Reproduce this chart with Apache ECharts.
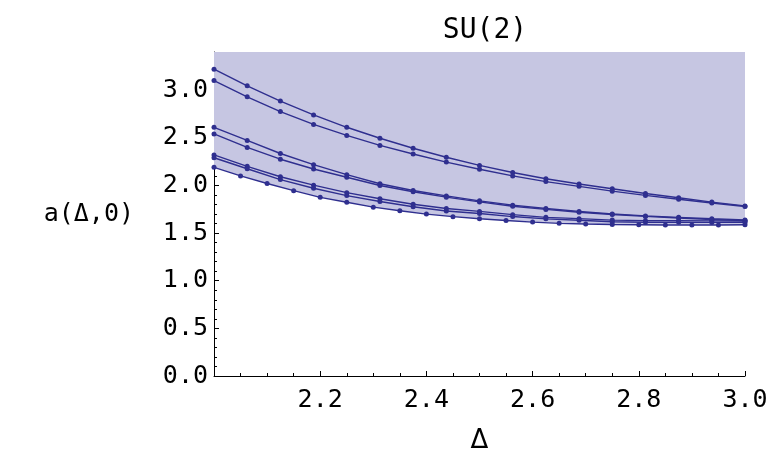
<!DOCTYPE html>
<html>
<head>
<meta charset="utf-8">
<script src="https://cdn.jsdelivr.net/npm/echarts@6/dist/echarts.min.js"></script>
<style>
  html, body { margin: 0; padding: 0; background: #fff; }
  #chart { width: 776px; height: 459px; }
</style>
</head>
<body>
<div id="chart"></div>
<script>
// x positions of the dotted curves (step 1/16) and of the lower bound (step 0.05)
const xFine = [2, 2.0625, 2.125, 2.1875, 2.25, 2.3125, 2.375, 2.4375, 2.5,
    2.5625, 2.625, 2.6875, 2.75, 2.8125, 2.875, 2.9375, 3];
const xBound = [2, 2.05, 2.1, 2.15, 2.2, 2.25, 2.3, 2.35, 2.4, 2.45, 2.5,
    2.55, 2.6, 2.65, 2.7, 2.75, 2.8, 2.85, 2.9, 2.95, 3];

const curve1 = [3.22, 3.045, 2.885, 2.74, 2.61, 2.495, 2.39, 2.295, 2.21, 2.135, 2.07, 2.015, 1.965, 1.915, 1.87, 1.825, 1.785];
const curve2 = [3.10, 2.93, 2.775, 2.64, 2.525, 2.42, 2.33, 2.245, 2.17, 2.10, 2.04, 1.99, 1.94, 1.895, 1.855, 1.815, 1.778];
const curve3 = [2.61, 2.472, 2.335, 2.218, 2.113, 2.017, 1.947, 1.890, 1.838, 1.793, 1.757, 1.727, 1.701, 1.680, 1.665, 1.650, 1.638];
const curve4 = [2.54, 2.399, 2.275, 2.172, 2.086, 1.999, 1.934, 1.877, 1.827, 1.782, 1.748, 1.719, 1.695, 1.675, 1.658, 1.643, 1.630];
const curve5 = [2.32, 2.20, 2.091, 2.003, 1.924, 1.860, 1.802, 1.757, 1.727, 1.693, 1.665, 1.651, 1.636, 1.630, 1.630, 1.628, 1.627];
const curve6 = [2.29, 2.175, 2.061, 1.970, 1.893, 1.831, 1.776, 1.732, 1.705, 1.673, 1.649, 1.634, 1.618, 1.613, 1.613, 1.612, 1.612];
const bound = [2.19, 2.10, 2.02, 1.945, 1.875, 1.823, 1.772, 1.734, 1.699, 1.672, 1.650, 1.632, 1.615, 1.602, 1.595, 1.590, 1.587, 1.585, 1.585, 1.585, 1.587];

const lineColor = '#2f2f8f';
const monoFont = 'DejaVu Sans Mono';

function pairs(xs, ys) {
    return xs.map((x, i) => [x, ys[i]]);
}

function dotted(data) {
    return {
        type: 'line',
        data: data,
        symbol: 'circle',
        symbolSize: 5,
        showSymbol: true,
        lineStyle: { color: lineColor, width: 1.4 },
        itemStyle: { color: lineColor },
        z: 3,
        silent: true
    };
}

const chart = echarts.init(document.getElementById('chart'));

const series = [
    Object.assign(dotted(pairs(xBound, bound)), {
        // shade everything above the lower bound
        areaStyle: { origin: 'end', color: '#c6c6e2', opacity: 1 },
        z: 2
    }),
    dotted(pairs(xFine, curve1)),
    dotted(pairs(xFine, curve2)),
    dotted(pairs(xFine, curve3)),
    dotted(pairs(xFine, curve4)),
    dotted(pairs(xFine, curve5)),
    dotted(pairs(xFine, curve6))
];

chart.setOption({
    animation: false,
    title: {
        text: 'SU(2)',
        left: 480,
        textAlign: 'center',
        top: 12,
        textStyle: { fontFamily: monoFont, fontSize: 28, fontWeight: 'normal', color: '#000' }
    },
    grid: { left: 214, right: 31, top: 52, bottom: 78 },
    xAxis: {
        type: 'value',
        min: 2,
        max: 3,
        interval: 0.2,
        name: 'Δ',
        nameLocation: 'middle',
        nameGap: 52,
        nameTextStyle: { fontFamily: 'DejaVu Sans', fontSize: 26, color: '#000' },
        axisLine: { show: true, lineStyle: { color: '#000', width: 1 } },
        axisTick: { show: true, inside: true, length: 5, lineStyle: { color: '#000' } },
        minorTick: { show: true, splitNumber: 4, length: 3, lineStyle: { color: '#000' } },
        splitLine: { show: false },
        axisLabel: {
            margin: 12,
            fontFamily: monoFont,
            fontSize: 25,
            color: '#000',
            formatter: function (v) { return v <= 2.0001 ? '' : v.toFixed(1); }
        }
    },
    yAxis: {
        type: 'value',
        min: 0,
        max: 3.4,
        interval: 0.5,
        name: 'a(Δ,0)',
        nameLocation: 'middle',
        nameRotate: 0,
        nameGap: 80,
        nameTextStyle: { fontFamily: monoFont, fontSize: 25, color: '#000', align: 'right' },
        axisLine: { show: true, onZero: false, lineStyle: { color: '#000', width: 1 } },
        axisTick: { show: true, inside: true, length: 5, lineStyle: { color: '#000' } },
        minorTick: { show: true, splitNumber: 5, length: 3, lineStyle: { color: '#000' } },
        splitLine: { show: false },
        axisLabel: {
            margin: 6,
            fontFamily: monoFont,
            fontSize: 25,
            color: '#000',
            formatter: function (v) {
                return Math.abs(v * 2 - Math.round(v * 2)) < 1e-6 ? v.toFixed(1) : '';
            }
        }
    },
    series: series
});
</script>
</body>
</html>
